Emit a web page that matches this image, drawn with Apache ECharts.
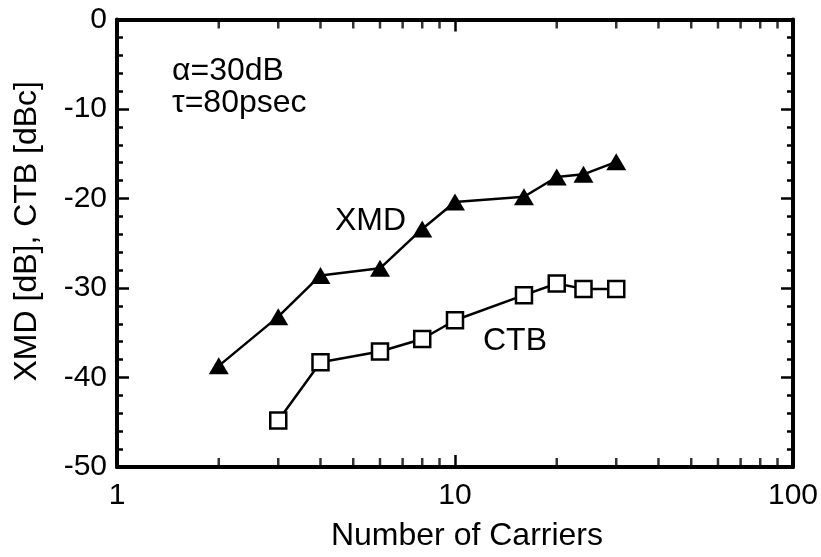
<!DOCTYPE html>
<html>
<head>
<meta charset="utf-8">
<script src="https://cdn.jsdelivr.net/npm/echarts@6/dist/echarts.min.js"></script>
<style>
  html, body { margin: 0; padding: 0; background: #fff; }
  #chart { width: 821px; height: 557px; }
</style>
</head>
<body>
<div id="chart"></div>
<script>
// Number of carriers (log scale) for each measured point
const carriersXMD = [2, 3, 4, 6, 8, 10, 16, 20, 24, 30];
const xmdValues = [-38.7, -33.2, -28.6, -27.8, -23.4, -20.4, -19.8, -17.6, -17.3, -15.9];

const carriersCTB = [3, 4, 6, 8, 10, 16, 20, 24, 30];
const ctbValues = [-44.8, -38.3, -37.1, -35.7, -33.6, -30.8, -29.5, -30.1, -30.1];

// Axis ticks
const xMinorTicks = [2, 3, 4, 5, 6, 7, 8, 9, 20, 30, 40, 50, 60, 70, 80, 90];
const yTicks = [0, -10, -20, -30, -40, -50];
const yMin = -50;
const yMax = 0;

const FONT = 'Liberation Sans, Arial, Helvetica, sans-serif';
const INK = '#000';

const chart = echarts.init(document.getElementById('chart'), null, { renderer: 'canvas' });

// Logarithmic carrier axis (bottom with labels, top as frame)
function logAxis(position, showLabel) {
  return {
    type: 'log',
    logBase: 10,
    min: 1,
    max: 100,
    position: position,
    axisLine: { show: true, onZero: false, lineStyle: { color: INK, width: 4 } },
    axisTick: { show: true, inside: true, length: 12, lineStyle: { color: INK, width: 2.5 } },
    axisLabel: {
      show: showLabel, margin: 14,
      color: INK, fontFamily: FONT, fontSize: 30,
      formatter: v => String(v)
    },
    minorTick: { show: false },
    splitLine: { show: false }
  };
}

function valueAxis(position, showLabel) {
  return {
    type: 'value',
    min: yMin,
    max: yMax,
    interval: 10,
    position: position,
    axisLine: { show: true, onZero: false, lineStyle: { color: INK, width: 4 } },
    axisTick: { show: true, inside: true, length: 12, lineStyle: { color: INK, width: 2.5 } },
    minorTick: { show: true, splitNumber: 5, length: 6, lineStyle: { color: INK, width: 2.5 } },
    axisLabel: {
      show: showLabel, margin: 10, color: INK, fontFamily: FONT, fontSize: 30,
      customValues: yTicks
    },
    splitLine: { show: false }
  };
}

const xBottom = logAxis('bottom', true);
xBottom.name = 'Number of Carriers';
xBottom.nameLocation = 'middle';
xBottom.nameGap = 53;
xBottom.nameTextStyle = { color: INK, fontFamily: FONT, fontSize: 32, padding: [0, 0, 0, 24] };

const yLeft = valueAxis('left', true);
yLeft.name = 'XMD [dB], CTB [dBc]';
yLeft.nameLocation = 'middle';
yLeft.nameGap = 74;
yLeft.nameTextStyle = { color: INK, fontFamily: FONT, fontSize: 32, padding: [0, 0, 0, 24] };

const tickStyle = { color: INK, borderWidth: 0 };

const option = {
  backgroundColor: '#fff',
  animation: false,
  grid: { left: 117, right: 16, top: 19.5, bottom: 87.5, containLabel: false },
  xAxis: [
    xBottom,
    logAxis('top', false)
  ],
  yAxis: [
    yLeft,
    valueAxis('right', false)
  ],
  series: [
    // Minor ticks at 2..9 of each decade, inward from the bottom frame edge
    {
      name: 'minorTicksBottom',
      type: 'scatter',
      xAxisIndex: 0,
      yAxisIndex: 0,
      data: xMinorTicks.map(v => [v, yMin]),
      symbol: 'rect',
      symbolSize: [2.5, 10],
      symbolOffset: [0, -4],
      itemStyle: tickStyle,
      silent: true,
      clip: false,
      z: 1
    },
    // Same minor ticks along the top frame edge
    {
      name: 'minorTicksTop',
      type: 'scatter',
      xAxisIndex: 0,
      yAxisIndex: 0,
      data: xMinorTicks.map(v => [v, yMax]),
      symbol: 'rect',
      symbolSize: [2.5, 10],
      symbolOffset: [0, 4],
      itemStyle: tickStyle,
      silent: true,
      clip: false,
      z: 1
    },
    {
      name: 'XMD',
      type: 'line',
      xAxisIndex: 0,
      yAxisIndex: 0,
      data: carriersXMD.map((c, i) => [c, xmdValues[i]]),
      symbol: 'triangle',
      symbolSize: [20, 17],
      lineStyle: { color: INK, width: 2.5 },
      itemStyle: { color: INK, borderColor: INK, borderWidth: 0 },
      z: 3
    },
    {
      name: 'CTB',
      type: 'line',
      xAxisIndex: 0,
      yAxisIndex: 0,
      data: carriersCTB.map((c, i) => [c, ctbValues[i]]),
      symbol: 'rect',
      symbolSize: 16,
      showAllSymbol: true,
      lineStyle: { color: INK, width: 2.5 },
      itemStyle: { color: '#fff', borderColor: INK, borderWidth: 2.5 },
      z: 3
    }
  ],
  graphic: [
    { type: 'text', left: 172, top: 55, style: { text: 'α=30dB', fill: INK, font: '32px ' + FONT } },
    { type: 'text', left: 172, top: 87, style: { text: 'τ=80psec', fill: INK, font: '32px ' + FONT } },
    { type: 'text', left: 335, top: 205, style: { text: 'XMD', fill: INK, font: '32px ' + FONT } },
    { type: 'text', left: 483, top: 325, style: { text: 'CTB', fill: INK, font: '32px ' + FONT } }
  ]
};

chart.setOption(option);
</script>
</body>
</html>
